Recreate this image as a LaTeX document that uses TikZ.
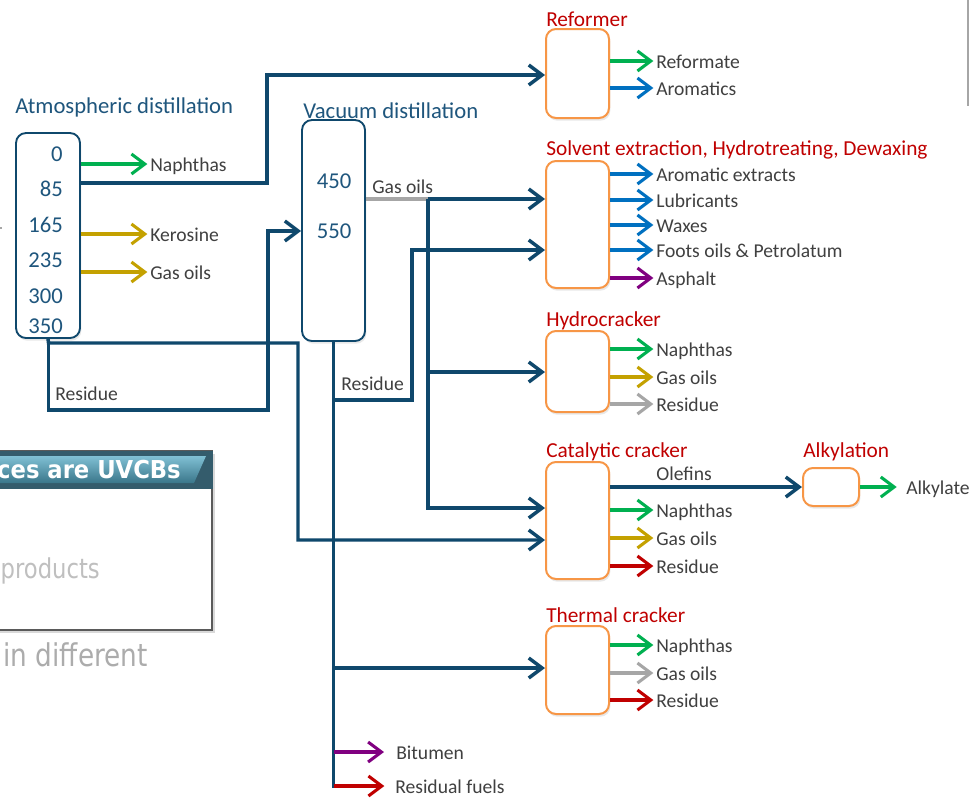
\documentclass[tikz,border=0pt]{standalone}
\usepackage{fontspec}
\setmainfont{Carlito}
\newfontfamily\dvfont[FakeStretch=0.83]{DejaVu Sans}
\newfontfamily\dvwfont[FakeStretch=0.84]{DejaVu Sans}
\newfontfamily\dvhfont[FakeStretch=0.92]{DejaVu Sans}
\usetikzlibrary{arrows.meta,shadows}
\definecolor{navy}{RGB}{15,72,108}
\definecolor{tblue}{RGB}{31,86,125}
\definecolor{lgrey}{RGB}{64,64,64}
\definecolor{tred}{RGB}{192,0,0}
\definecolor{orng}{RGB}{247,150,70}
\definecolor{cgreen}{RGB}{0,176,80}
\definecolor{cgold}{RGB}{196,161,0}
\definecolor{cblue}{RGB}{0,112,192}
\definecolor{cpurp}{RGB}{128,0,128}
\definecolor{cred}{RGB}{192,0,0}
\definecolor{cgrey}{RGB}{166,166,166}
\definecolor{ltext}{RGB}{191,191,191}
\definecolor{mtext}{RGB}{172,172,172}
\definecolor{bnrdark}{RGB}{52,92,108}
\definecolor{bnrtop}{RGB}{128,192,212}
\definecolor{bnrbot}{RGB}{58,118,138}
\begin{document}
\begin{tikzpicture}[x=0.75pt,y=-0.75pt,
  >={Straight Barb[length=10pt,width=15pt]},
  line/.style={draw=navy,line width=2.6pt},
  conn/.style={draw=navy,line width=2.6pt,->},
  outa/.style={line width=2.3pt,->,shorten >=2pt},
  lab/.style={anchor=west,inner sep=0pt,text=lgrey,font=\fontsize{14.7}{17}\selectfont,text height=12.5pt,text depth=1.5pt},
  ttl/.style={anchor=west,inner sep=0pt,text=tred,font=\fontsize{16}{19}\selectfont},
  hdr/.style={anchor=west,inner sep=0pt,text=tblue,font=\fontsize{17}{20}\selectfont},
  num/.style={anchor=east,inner sep=0pt,text=tblue,font=\fontsize{17}{20}\selectfont},
  pbox/.style={draw=orng,line width=1.5pt,rounded corners=7.5pt,fill=white,minimum width=47.25pt,
     drop shadow={opacity=0.18,shadow xshift=1pt,shadow yshift=-2pt}},
  dbox/.style={draw=navy,line width=1.4pt,rounded corners=7.5pt,fill=white,
     drop shadow={opacity=0.18,shadow xshift=1pt,shadow yshift=-2pt}},
]
\useasboundingbox (0,0) rectangle (970,800);
\fill[white] (0,0) rectangle (970,800);

% ---- right edge line and small mark
\draw[cgrey,line width=1.2pt] (968,0) -- (968,106);
\draw[cgrey,line width=1pt] (0,228) -- (2,228);

% ---- UVCB panel (cropped)
\fill[black,opacity=0.15] (-10,454) rectangle (215,633);
\draw[draw={rgb,255:red,90;green,90;blue,90},line width=1.5pt,fill=white] (-10,451) rectangle (212,630);
\fill[bnrdark] (-10,451) rectangle (213,489);
\shade[top color=bnrtop,bottom color=bnrbot] (-10,456) -- (206,456) -- (194,483) -- (-10,483) -- cycle;
\node[anchor=east,inner sep=0pt,text=white,font=\dvhfont\bfseries\fontsize{18.5}{21}\selectfont] (uvcb) at (181,470) {ces are UVCBs};
\node[anchor=base east,inner sep=0pt,text=ltext,font=\dvfont\fontsize{20.5}{23}\selectfont] (prod) at (100,578) {products};
\node[anchor=base east,inner sep=0pt,text=mtext,font=\dvwfont\fontsize{23.5}{26}\selectfont] (indiff) at (148,666) {in different};

% ---- distillation columns
\node[hdr] (atmt) at (15,107) {Atmospheric distillation};
\node[dbox,minimum width=48pt,minimum height=153.75pt] (atm) at (48,235.5) {};
\node[num] (n0) at (63,154) {0};
\node[num] (n85) at (63,189) {85};
\node[num] (n165) at (63,225) {165};
\node[num] (n235) at (63,260) {235};
\node[num] (n300) at (63,296) {300};
\node[num] (n350) at (63,326) {350};

\node[hdr] (vact) at (303,111) {Vacuum distillation};
\node[dbox,minimum width=47.25pt,minimum height=165.75pt] (vac) at (333.5,230.5) {};
\node[num,anchor=center] (v450) at (334,181) {450};
\node[num,anchor=center] (v550) at (334,231) {550};

% ---- labels near distillation
\node[lab] (nap1) at (150,164) {Naphthas};
\node[lab] (ker) at (150,234) {Kerosine};
\node[lab] (go1) at (150,272) {Gas oils};
\node[lab] (res1) at (55,393) {Residue};
\node[lab] (go2) at (372,186) {Gas oils};
\node[lab] (res2) at (341,383) {Residue};
\node[lab] (bit) at (396,752) {Bitumen};
\node[lab] (rf) at (395,786) {Residual fuels};

% ---- process units
\node[ttl] (reft) at (546,19) {Reformer};
\node[pbox,minimum height=66.75pt] (ref) at (577.5,73.5) {};
\node[lab] (ref1) at (656,61) {Reformate};
\node[lab] (ref2) at (656,88) {Aromatics};

\node[ttl] (solt) at (546,150) {Solvent extraction, Hydrotreating, Dewaxing};
\node[pbox,minimum height=95.25pt] (sol) at (577.5,224.5) {};
\node[lab] (sol1) at (656,174) {Aromatic extracts};
\node[lab] (sol2) at (656,200) {Lubricants};
\node[lab] (sol3) at (656,225) {Waxes};
\node[lab] (sol4) at (656,250) {Foots oils \& Petrolatum};
\node[lab] (sol5) at (656,278) {Asphalt};

\node[ttl] (hydt) at (546,321) {Hydrocracker};
\node[pbox,minimum height=60.75pt] (hyd) at (577.5,371.5) {};
\node[lab] (hyd1) at (656,349) {Naphthas};
\node[lab] (hyd2) at (656,377) {Gas oils};
\node[lab] (hyd3) at (656,404) {Residue};

\node[ttl] (catt) at (546,452) {Catalytic cracker};
\node[pbox,minimum height=87.75pt] (cat) at (577.5,520.5) {};
\node[lab] (cat1) at (656,510) {Naphthas};
\node[lab] (cat2) at (656,538) {Gas oils};
\node[lab] (cat3) at (656,566) {Residue};
\node[lab,anchor=center] (olef) at (684,473) {Olefins};

\node[ttl] (alkt) at (803,452) {Alkylation};
\node[pbox,minimum width=42pt,minimum height=28.5pt] (alk) at (831,487) {};
\node[lab] (alk1) at (906,487) {Alkylate};

\node[ttl] (thet) at (546,615) {Thermal cracker};
\node[pbox,minimum height=66pt] (the) at (577.5,670) {};
\node[lab] (the1) at (656,645) {Naphthas};
\node[lab] (the2) at (656,673) {Gas oils};
\node[lab] (the3) at (656,700) {Residue};

% ---- atmospheric outputs
\draw[outa,cgreen] (atm.east |- 0,164) -- (nap1.west);
\draw[outa,cgold] (atm.east |- 0,234) -- (ker.west);
\draw[outa,cgold] (atm.east |- 0,272) -- (go1.west);
\draw[conn] (atm.east |- 0,183) -| (267,75) -- (ref.west |- 0,75);
\coordinate (ar) at (48.5,343);
\draw[conn] (atm.south) -- (ar) -| (298,540) -- (cat.west |- 0,540);
\draw[conn] (ar) |- (268,410) |- (vac.west |- 0,231);

% ---- vacuum outputs
\draw[cgrey,line width=2.6pt] (vac.east |- 0,199) -- (428,199);
\coordinate (vg) at (428,199);
\draw[conn] (vg) -- (sol.west |- 0,199);
\draw[conn] (vg) |- (cat.west |- 0,508);
\draw[conn] (428,372) -- (hyd.west |- 0,372);
\draw[line] (vac.south) -- (333.5,788);
\draw[conn] (333.5,400) -| (412,250) -- (sol.west |- 0,250);
\draw[conn] (333.5,668) -- (the.west |- 0,668);
\draw[outa,cpurp,shorten >=9pt] (333.5,752) -- (bit.west);
\draw[outa,cred,shorten >=8pt] (333.5,786) -- (rf.west);

% ---- unit outputs
\draw[outa,cgreen] (ref.east |- 0,61) -- (ref1.west);
\draw[outa,cblue] (ref.east |- 0,88) -- (ref2.west);
\draw[outa,cblue] (sol.east |- 0,174) -- (sol1.west);
\draw[outa,cblue] (sol.east |- 0,200) -- (sol2.west);
\draw[outa,cblue] (sol.east |- 0,225) -- (sol3.west);
\draw[outa,cblue] (sol.east |- 0,250) -- (sol4.west);
\draw[outa,cpurp] (sol.east |- 0,278) -- (sol5.west);
\draw[outa,cgreen] (hyd.east |- 0,349) -- (hyd1.west);
\draw[outa,cgold] (hyd.east |- 0,377) -- (hyd2.west);
\draw[outa,cgrey] (hyd.east |- 0,404) -- (hyd3.west);
\draw[conn] (cat.east |- 0,487) -- (alk.west);
\draw[outa,cgreen] (cat.east |- 0,510) -- (cat1.west);
\draw[outa,cgold] (cat.east |- 0,538) -- (cat2.west);
\draw[outa,cred] (cat.east |- 0,566) -- (cat3.west);
\draw[outa,cgreen,shorten >=7pt] (alk.east) -- (alk1.west);
\draw[outa,cgreen] (the.east |- 0,645) -- (the1.west);
\draw[outa,cgrey] (the.east |- 0,673) -- (the2.west);
\draw[outa,cred] (the.east |- 0,700) -- (the3.west);
\end{tikzpicture}
\end{document}
